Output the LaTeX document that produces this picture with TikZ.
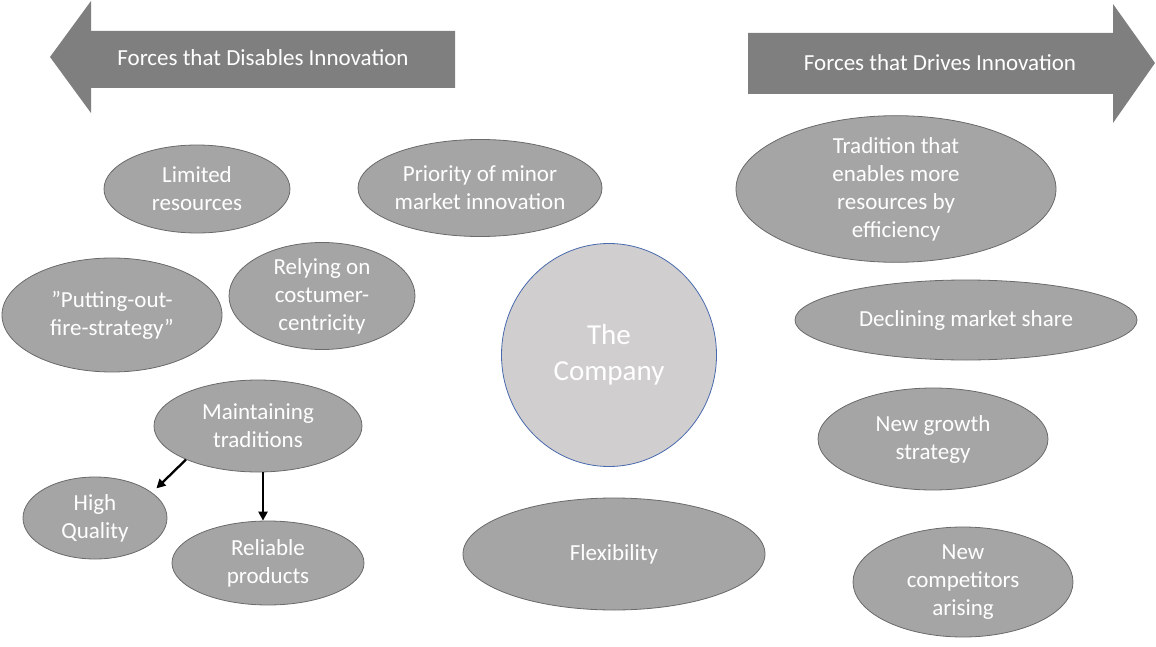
\documentclass[tikz,border=0pt]{standalone}
\usepackage{fontspec}
\setmainfont{Carlito}
\usetikzlibrary{shapes.geometric,arrows.meta}
\definecolor{arrowgray}{HTML}{7F7F7F}
\definecolor{ellfill}{HTML}{A5A5A5}
\definecolor{elledge}{HTML}{6A6A6A}
\definecolor{corefill}{HTML}{D0CECE}
\definecolor{coreedge}{HTML}{4A6AAE}
\tikzset{
  force/.style={ellipse, fill=ellfill, draw=elledge, line width=0.8pt, inner sep=0pt,
    text=white, align=center, font=\fontsize{23}{28}\selectfont},
  core/.style={ellipse, fill=corefill, draw=coreedge, line width=0.8pt, inner sep=0pt,
    text=white, align=center, font=\fontsize{29}{36}\selectfont},
  banner/.style={text=white, font=\fontsize{23}{28}\selectfont},
  link/.style={-{Triangle[length=9pt,width=9pt]}, line width=2.3pt, black},
}
\begin{document}
\begin{tikzpicture}[x=1pt,y=-1pt]
\useasboundingbox (0,0) rectangle (1156,647);

% direction banners
\fill[arrowgray] (50,57) -- (91,1) -- (91,31) -- (455,31) -- (455,88) -- (91,88) -- (91,113) -- cycle;
\node[banner] (disables) at (263,58) {Forces that Disables Innovation};
\fill[arrowgray] (748,33) -- (1113,33) -- (1113,4) -- (1155,63) -- (1113,123) -- (1113,94) -- (748,94) -- cycle;
\node[banner] (drives) at (940,63) {Forces that Drives Innovation};

% the company
\node[core, minimum width=215pt, minimum height=223pt] (company) at (609,355) {The\\Company};

% disabling forces
\node[force, minimum width=186pt, minimum height=88pt] (limited) at (197,189) {Limited\\resources};
\node[force, minimum width=244pt, minimum height=97pt] (priority) at (480,188) {Priority of minor\\market innovation};
\node[force, minimum width=220pt, minimum height=114pt] (fire) at (112,315) {”Putting-out-\\fire-strategy”};
\node[force, minimum width=186pt, minimum height=107pt] (relying) at (322,296) {Relying on\\costumer-\\centricity};
\node[force, minimum width=208pt, minimum height=92pt] (maintain) at (258,426) {Maintaining\\traditions};
\node[force, minimum width=144pt, minimum height=82pt] (quality) at (95,518) {High\\Quality};
\node[force, minimum width=192pt, minimum height=84pt] (reliable) at (268,563) {Reliable\\products};
\node[force, minimum width=302pt, minimum height=112pt] (flex) at (614,554) {Flexibility};

% driving forces
\node[force, minimum width=320pt, minimum height=116pt] (tradition) at (896,189) {Tradition that\\enables more\\resources by\\efficiency};
\node[force, minimum width=342pt, minimum height=80pt] (declining) at (966,320) {Declining market share};
\node[force, minimum width=230pt, minimum height=102pt] (growth) at (933,439) {New growth\\strategy};
\node[force, minimum width=220pt, minimum height=110pt] (competitors) at (963,582) {New\\competitors\\arising};

% consequences of maintaining traditions
\draw[link, shorten >=6pt] (maintain.205) -- (quality.24);
\draw[link] ([xshift=5pt]maintain.south) -- ([xshift=5pt]maintain.south |- reliable.north);
\end{tikzpicture}
\end{document}
